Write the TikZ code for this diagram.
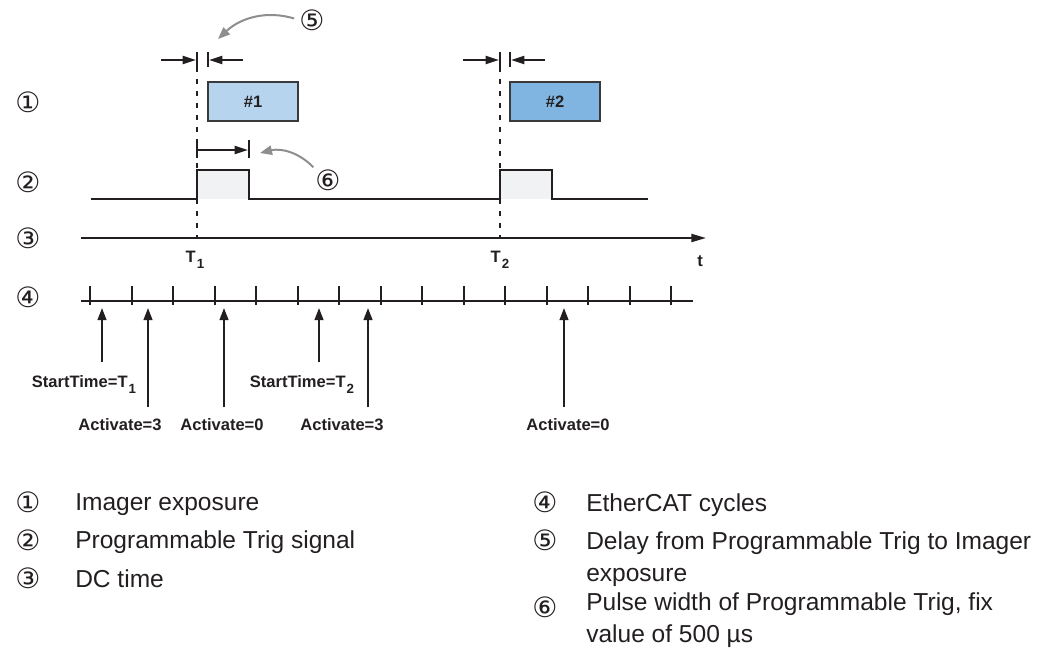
\documentclass[tikz,border=0pt]{standalone}
\usepackage{fontspec}
\setmainfont{Liberation Sans}
\newfontfamily\circfont{DejaVu Sans}
\usetikzlibrary{arrows.meta}

\definecolor{inkline}{HTML}{231F20}
\definecolor{boxedge}{HTML}{3A3A3C}
\definecolor{expolight}{HTML}{B7D4EE}
\definecolor{expodark}{HTML}{80B5E1}
\definecolor{pulsefill}{HTML}{F1F2F4}
\definecolor{notegrey}{HTML}{8E8E8E}

\newcommand\tlabelfont{\fontsize{12.4}{15}\selectfont\bfseries}
\newcommand\keyfont{\fontsize{18.4}{24}\selectfont}
\newcommand\circsize{\circfont\fontsize{21}{24}\selectfont}
\newcommand\lowidx[1]{\kern0.8pt\raisebox{-4.5pt}{\fontsize{10}{11}\selectfont #1}}

\begin{document}
\begin{tikzpicture}[x=0.75pt, y=-0.75pt, font=\tlabelfont, text=inkline,
  sigline/.style={draw=inkline, line width=1.5pt},
  markline/.style={draw=inkline, line width=1.4pt, dash pattern=on 3.75pt off 5.25pt},
  dimline/.style={draw=inkline, line width=1.4pt, -{Triangle[length=10pt,width=6pt]}},
  pointer/.style={draw=inkline, line width=1.5pt, -{Triangle[length=9pt,width=6.5pt]}},
  noteline/.style={draw=notegrey, line width=1.5pt, -{Triangle[length=9pt,width=7pt]}},
  expobox/.style={draw=boxedge, line width=1.5pt, minimum width=67.5pt, minimum height=29.25pt,
    inner sep=0pt, font=\tlabelfont},
  circnum/.style={font=\circsize, inner sep=0pt},
  axlabel/.style={anchor=base, inner sep=0pt},
  keytext/.style={anchor=base west, inner sep=0pt, align=left, font=\keyfont},
]
\useasboundingbox (0,0) rectangle (1042,650);

% ---------- row numbers ----------
\node[circnum] (r1) at (28,102) {①};
\node[circnum] (r2) at (28,182) {②};
\node[circnum] (r3) at (28,238) {③};
\node[circnum] (r4) at (28,297) {④};

% ---------- (1) imager exposure ----------
\node[expobox, fill=expolight] (img1) at (253,101.5) {\#1};
\node[expobox, fill=expodark] (img2) at (555,101.5) {\#2};

% ---------- (5) delay marks at T1 and T2 ----------
\coordinate (t1top) at (197,52);
\coordinate (t1mid) at (197,67);
\coordinate (t1low) at (197,237);
\coordinate (d1in) at (161,60);
\coordinate (d1tip) at (196,60);
\coordinate (e1top) at (208,52);
\coordinate (e1low) at (208,67);
\coordinate (e1in) at (243,60);
\coordinate (e1tip) at (209,60);
\draw[sigline] (t1top) -- (t1mid);
\draw[markline] (t1mid) -- (t1low);
\draw[sigline] (e1top) -- (e1low);
\draw[dimline] (d1in) -- (d1tip);
\draw[dimline] (e1in) -- (e1tip);

\coordinate (t2top) at (500,52);
\coordinate (t2mid) at (500,67);
\coordinate (t2low) at (500,237);
\coordinate (d2in) at (463,60);
\coordinate (d2tip) at (499,60);
\coordinate (e2top) at (510,52);
\coordinate (e2low) at (510,67);
\coordinate (e2in) at (545,60);
\coordinate (e2tip) at (511,60);
\draw[sigline] (t2top) -- (t2mid);
\draw[markline] (t2mid) -- (t2low);
\draw[sigline] (e2top) -- (e2low);
\draw[dimline] (d2in) -- (d2tip);
\draw[dimline] (e2in) -- (e2tip);

\node[circnum] (n5) at (312,20) {⑤};
\coordinate (n5tip) at (218,39);
\draw[noteline, shorten <=4pt] (n5.west) to[bend right=30] (n5tip);

% ---------- (2) programmable trig signal ----------
\fill[pulsefill] (197,170) rectangle (249,199);
\fill[pulsefill] (500,170) rectangle (552,199);
\draw[sigline] (91,199) -| (197,170) -| (249,199) -| (500,170) -| (552,199) -- (648,199);

% ---------- (6) pulse width ----------
\coordinate (w1top) at (197,140);
\coordinate (w1low) at (197,158);
\coordinate (w2top) at (249,140);
\coordinate (w2low) at (249,158);
\coordinate (w1in) at (197,150);
\coordinate (w1tip) at (248,150);
\draw[sigline] (w1top) -- (w1low);
\draw[sigline] (w2top) -- (w2low);
\draw[dimline] (w1in) -- (w1tip);

\node[circnum] (n6) at (328,180) {⑥};
\coordinate (n6tip) at (260,153);
\draw[noteline, shorten <=2pt] (n6.north west) to[bend right=30] (n6tip);

% ---------- (3) DC time ----------
\coordinate (dcin) at (81,238);
\coordinate (dcout) at (706,238);
\draw[sigline, -{Triangle[length=11pt,width=6pt]}] (dcin) -- (dcout);
\node[axlabel] (lt1) at (195,262) {T\lowidx{1}};
\node[axlabel] (lt2) at (500,262) {T\lowidx{2}};
\node[axlabel] (lt) at (700,266) {t};

% ---------- (4) EtherCAT cycles ----------
\coordinate (ecin) at (81,301);
\coordinate (ecout) at (693,301);
\draw[sigline] (ecin) -- (ecout);
\foreach \k in {0,...,14}
  \draw[sigline] ({90+41.5*\k},286) -- ({90+41.5*\k},305);

\node[axlabel] (st1) at (84,387) {StartTime=T\lowidx{1}};
\coordinate (st1a) at (102,362);
\coordinate (st1b) at (102,308);
\draw[pointer] (st1a) -- (st1b);

\node[axlabel] (ac1) at (120,430) {Activate=3};
\coordinate (ac1a) at (148,407);
\coordinate (ac1b) at (148,308);
\draw[pointer] (ac1a) -- (ac1b);

\node[axlabel] (ac2) at (222,430) {Activate=0};
\coordinate (ac2a) at (224,407);
\coordinate (ac2b) at (224,308);
\draw[pointer] (ac2a) -- (ac2b);

\node[axlabel] (st2) at (302,387) {StartTime=T\lowidx{2}};
\coordinate (st2a) at (319,362);
\coordinate (st2b) at (319,308);
\draw[pointer] (st2a) -- (st2b);

\node[axlabel] (ac3) at (342,430) {Activate=3};
\coordinate (ac3a) at (368,407);
\coordinate (ac3b) at (368,308);
\draw[pointer] (ac3a) -- (ac3b);

\node[axlabel] (ac4) at (568,430) {Activate=0};
\coordinate (ac4a) at (564,407);
\coordinate (ac4b) at (564,308);
\draw[pointer] (ac4a) -- (ac4b);

% ---------- key ----------
\node[circnum] (k1) at (28,502) {①};
\node[keytext] (k1t) at (75,510) {Imager exposure};
\node[circnum] (k2) at (28,540) {②};
\node[keytext] (k2t) at (75,548) {Programmable Trig signal};
\node[circnum] (k3) at (28,578) {③};
\node[keytext] (k3t) at (75,587) {DC time};

\node[circnum] (k4) at (545,502) {④};
\node[keytext] (k4t) at (586,511) {EtherCAT cycles};
\node[circnum] (k5) at (545,540) {⑤};
\node[keytext] (k5t) at (586,581) {Delay from Programmable Trig to Imager\\exposure};
\node[circnum] (k6) at (545,607) {⑥};
\node[keytext] (k6t) at (586,642) {Pulse width of Programmable Trig, fix\\value of 500 µs};

\end{tikzpicture}
\end{document}
